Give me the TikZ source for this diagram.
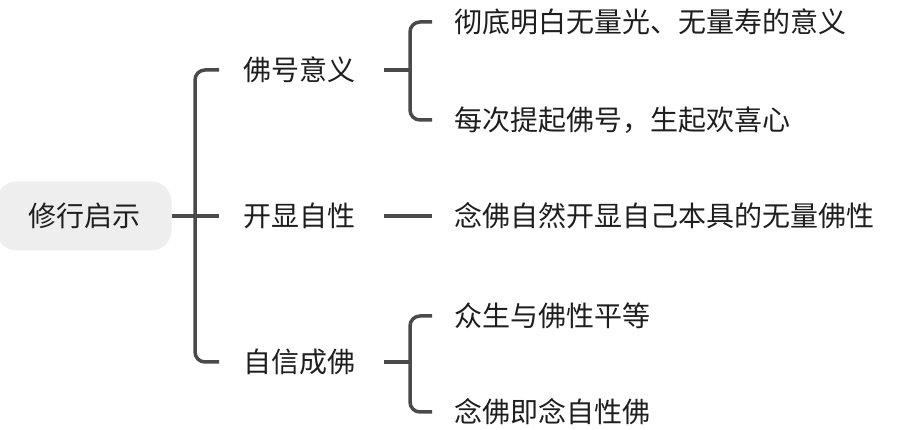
\documentclass[tikz,border=0pt]{standalone}
\usepackage{fontspec}
\usepackage{tikz}
\usetikzlibrary{positioning}
\newfontfamily\cjk{Noto Sans CJK SC}
\definecolor{mline}{HTML}{4A4A4A}
\definecolor{mtext}{HTML}{1E1E1E}
\definecolor{mroot}{HTML}{EEEEEE}
\tikzset{topic/.style = {inner sep = 0, anchor = west, text = mtext,
                         font = \cjk\fontsize{28}{33}\selectfont}}
\tikzset{rootbox/.style = {fill = mroot, rounded corners = 20, minimum width = 175,
                           minimum height = 69, text = mtext,
                           font = \cjk\fontsize{28}{33}\selectfont}}
\tikzset{conn/.style = {mline, line width = 3.5, rounded corners = 10}}

\begin{document}
\begin{tikzpicture}[x = 1pt, y = -1pt]
      \useasboundingbox (0, 0) rectangle (906, 430);

      \node [rootbox] (root) at (84, 216) {修行启示};

      \node [topic] (fhyy) at (243, 70) {佛号意义};
      \node [topic] (kxzx) at (243, 216) {开显自性};
      \node [topic] (zxcf) at (243, 362) {自信成佛};

      \node [topic] (cdmb) at (454, 22) {彻底明白无量光、无量寿的意义};
      \node [topic] (mctq) at (454, 120) {每次提起佛号，生起欢喜心};
      \node [topic] (nfzr) at (454, 216) {念佛自然开显自己本具的无量佛性};
      \node [topic] (zsyf) at (454, 316) {众生与佛性平等};
      \node [topic] (nfjn) at (454, 412) {念佛即念自性佛};

      \draw [conn] (root.east) -- ([xshift = -24]kxzx.west);
      \draw [conn] ([xshift = -24]fhyy.west) -- ++(-24, 0) |- ([xshift = -24]zxcf.west);

      \draw [conn] ([xshift = 29]fhyy.east) -- ++(25, 0);
      \draw [conn] ([xshift = -22]cdmb.west) -- ++(-22, 0) |- ([xshift = -22]mctq.west);

      \draw [conn] ([xshift = 29]kxzx.east) -- ([xshift = -22]nfzr.west);

      \draw [conn] ([xshift = 29]zxcf.east) -- ++(25, 0);
      \draw [conn] ([xshift = -22]zsyf.west) -- ++(-22, 0) |- ([xshift = -22]nfjn.west);
    \end{tikzpicture}
\end{document}
